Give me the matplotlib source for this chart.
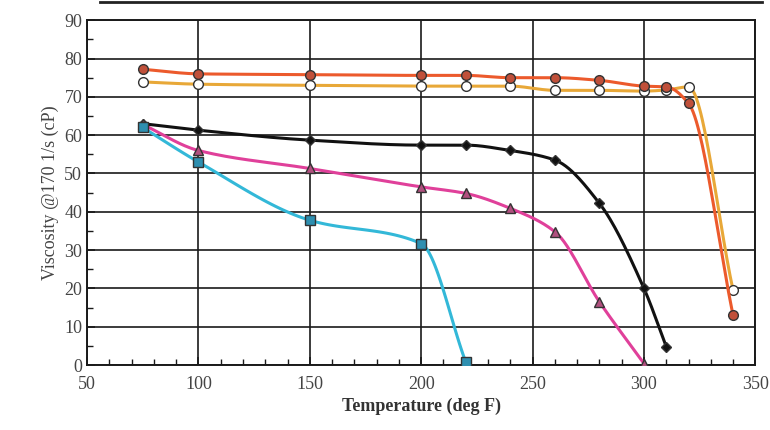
import numpy as np
import matplotlib
matplotlib.use("Agg")
import matplotlib.pyplot as plt
from matplotlib.ticker import MultipleLocator

# ---- data ----
temp_red = [75, 100, 150, 200, 220, 240, 260, 280, 300, 310, 320, 340]
visc_red = [77.2, 76.0, 75.8, 75.6, 75.6, 75.0, 75.0, 74.3, 72.8, 72.6, 68.3, 13.0]

temp_white = [75, 100, 150, 200, 220, 240, 260, 280, 300, 310, 320, 340]
visc_white = [73.9, 73.3, 73.0, 72.8, 72.8, 72.8, 71.7, 71.7, 71.5, 71.8, 72.6, 19.5]

temp_black = [75, 100, 150, 200, 220, 240, 260, 280, 300, 310]
visc_black = [63.0, 61.3, 58.7, 57.4, 57.4, 56.0, 53.5, 42.2, 20.0, 4.8]

temp_pink = [75, 100, 150, 200, 220, 240, 260, 280, 300]
visc_pink = [62.8, 56.0, 51.3, 46.5, 44.8, 40.9, 34.8, 16.5, 0.4]

temp_cyan = [75, 100, 150, 200, 220]
visc_cyan = [62.0, 53.0, 37.8, 31.7, 0.8]

x_ticks = [50, 100, 150, 200, 250, 300, 350]
y_ticks = [0, 10, 20, 30, 40, 50, 60, 70, 80, 90]


def pchip(x, y, n=30):
    """Monotone piecewise cubic Hermite curve through the data points."""
    x = np.asarray(x, float)
    y = np.asarray(y, float)
    h = np.diff(x)
    d = np.diff(y) / h
    m = np.zeros_like(y)
    for k in range(1, len(x) - 1):
        if d[k - 1] * d[k] <= 0:
            m[k] = 0.0
        else:
            w1 = 2 * h[k] + h[k - 1]
            w2 = h[k] + 2 * h[k - 1]
            m[k] = (w1 + w2) / (w1 / d[k - 1] + w2 / d[k])
    m[0] = d[0]
    m[-1] = d[-1]
    xs, ys = [], []
    for k in range(len(x) - 1):
        t = np.linspace(0, 1, n)
        h00 = 2 * t ** 3 - 3 * t ** 2 + 1
        h10 = t ** 3 - 2 * t ** 2 + t
        h01 = -2 * t ** 3 + 3 * t ** 2
        h11 = t ** 3 - t ** 2
        yy = h00 * y[k] + h10 * h[k] * m[k] + h01 * y[k + 1] + h11 * h[k] * m[k + 1]
        xx = x[k] + t * h[k]
        if k > 0:
            xx, yy = xx[1:], yy[1:]
        xs.append(xx)
        ys.append(yy)
    return np.concatenate(xs), np.concatenate(ys)


plt.rcParams['font.family'] = ['Liberation Serif', 'DejaVu Serif']

fig = plt.figure(figsize=(7.7, 4.3), dpi=100)
ax = fig.add_axes([0.113, 0.151, 0.868, 0.802])

series = [
    (temp_white, visc_white, '#E8A838', 'o', 'white', 3),
    (temp_red, visc_red, '#EC5A2C', 'o', '#C0503A', 4),
    (temp_black, visc_black, '#111111', 'D', '#111111', 5),
    (temp_pink, visc_pink, '#E0409A', '^', '#B0507E', 6),
    (temp_cyan, visc_cyan, '#33B8D8', 's', '#2E8FB0', 7),
]
for xs, ys, lc, mk, mfc, z in series:
    sx, sy = pchip(xs, ys)
    ax.plot(sx, sy, color=lc, lw=2.2, zorder=z, solid_capstyle='round')
    ms = 7 if mk != 'D' else 5
    ax.plot(xs, ys, linestyle='none', marker=mk, markersize=ms,
            markerfacecolor=mfc, markeredgecolor='#333333', markeredgewidth=1.0, zorder=z + 0.5)

ax.set_xlim(50, 350)
ax.set_ylim(0, 90)
ax.set_xticks(x_ticks)
ax.set_yticks(y_ticks)
ax.xaxis.set_minor_locator(MultipleLocator(10))
ax.yaxis.set_minor_locator(MultipleLocator(5))
ax.grid(True, which='major', color='#1a1a1a', lw=1.2, zorder=1)
ax.tick_params(which='major', direction='in', length=6, width=1.2, labelsize=13,
               colors='#1a1a1a', labelcolor='#444444')
ax.tick_params(which='minor', direction='in', length=4, width=1.0, color='#1a1a1a')
ax.tick_params(axis='x', pad=8)
for sp in ax.spines.values():
    sp.set_color('#1a1a1a')
    sp.set_linewidth(1.4)

ax.set_xlabel('Temperature (deg F)', fontsize=13, fontweight='bold', color='#333333', labelpad=3)
ax.set_ylabel('Viscosity @170 1/s (cP)', fontsize=13, color='#444444', labelpad=4)

# page rule at the top
fig.add_artist(plt.Line2D([0.13, 0.99], [0.996, 0.996], transform=fig.transFigure,
                          color='#222222', lw=2))

fig.savefig('out.png', dpi=100)
